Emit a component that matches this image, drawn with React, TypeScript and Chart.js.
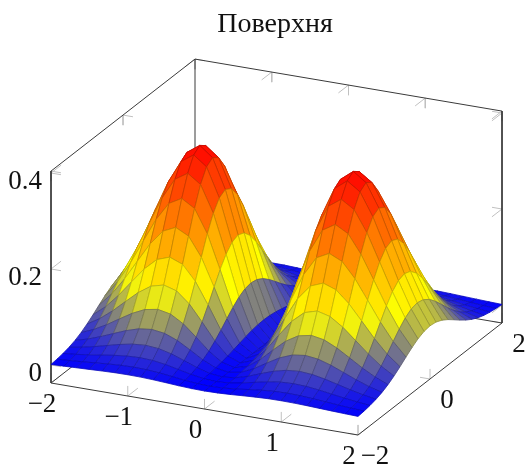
import React, { useEffect, useRef } from "react";
import { Chart, registerables } from "chart.js";

Chart.register(...registerables);

const titleText = "Поверхня";
const xTicks = [-2, -1, 0, 1, 2];
const yTicks = [-2, 0, 2];
const zTicks = [0, 0.2, 0.4];
const xTickLabels = ["−2", "−1", "0", "1", "2"];
const yTickLabels = ["−2", "0", "2"];
const zTickLabels = ["0", "0.2", "0.4"];

// grid coordinates of the surface
const gridX = [-2, -1.8333, -1.6667, -1.5, -1.3333, -1.1667, -1, -0.8333, -0.6667, -0.5, -0.3333, -0.1667, 0, 0.1667, 0.3333, 0.5, 0.6667, 0.8333, 1, 1.1667, 1.3333, 1.5, 1.6667, 1.8333, 2];
const gridY = [-2, -1.8333, -1.6667, -1.5, -1.3333, -1.1667, -1, -0.8333, -0.6667, -0.5, -0.3333, -0.1667, 0, 0.1667, 0.3333, 0.5, 0.6667, 0.8333, 1, 1.1667, 1.3333, 1.5, 1.6667, 1.8333, 2];

// heights for |x| = 0, 1/6 … 2 (rows) and |y| = 0, 1/6 … 2 (columns); the surface is mirror-symmetric in both
const zQuadrant = [
  [0, 0, 0, 0, 0, 0, 0, 0, 0, 0, 0, 0, 0],
  [0.027, 0.0263, 0.0242, 0.021, 0.0173, 0.0135, 0.0099, 0.0069, 0.0046, 0.0028, 0.0017, 0.0009, 0.0005],
  [0.0994, 0.0967, 0.089, 0.0774, 0.0638, 0.0496, 0.0366, 0.0255, 0.0168, 0.0105, 0.0062, 0.0034, 0.0018],
  [0.1947, 0.1894, 0.1742, 0.1516, 0.1248, 0.0972, 0.0716, 0.0499, 0.0329, 0.0205, 0.0121, 0.0068, 0.0036],
  [0.285, 0.2772, 0.255, 0.2219, 0.1827, 0.1423, 0.1048, 0.0731, 0.0482, 0.03, 0.0177, 0.0099, 0.0052],
  [0.3468, 0.3373, 0.3103, 0.2701, 0.2223, 0.1732, 0.1276, 0.0889, 0.0586, 0.0365, 0.0216, 0.012, 0.0064],
  [0.3679, 0.3578, 0.3292, 0.2865, 0.2359, 0.1837, 0.1353, 0.0943, 0.0622, 0.0388, 0.0229, 0.0128, 0.0067],
  [0.349, 0.3394, 0.3123, 0.2718, 0.2237, 0.1743, 0.1284, 0.0895, 0.059, 0.0368, 0.0217, 0.0121, 0.0064],
  [0.3005, 0.2922, 0.2689, 0.234, 0.1927, 0.15, 0.1105, 0.077, 0.0508, 0.0317, 0.0187, 0.0104, 0.0055],
  [0.2371, 0.2307, 0.2122, 0.1847, 0.1521, 0.1184, 0.0872, 0.0608, 0.0401, 0.025, 0.0147, 0.0082, 0.0043],
  [0.1727, 0.168, 0.1546, 0.1345, 0.1107, 0.0862, 0.0635, 0.0443, 0.0292, 0.0182, 0.0107, 0.006, 0.0032],
  [0.1166, 0.1134, 0.1044, 0.0908, 0.0748, 0.0582, 0.0429, 0.0299, 0.0197, 0.0123, 0.0073, 0.004, 0.0021],
  [0.0733, 0.0713, 0.0656, 0.0571, 0.047, 0.0366, 0.027, 0.0188, 0.0124, 0.0077, 0.0046, 0.0025, 0.0013],
];

const zAxisMin = -0.0375;
const zAxisMax = 0.404;
const xMin = -2, xMax = 2, yMin = -2, yMax = 2;

// colormap "hot"
const cmap = [[0, 0, 255], [255, 255, 0], [255, 128, 0], [255, 0, 0]];
const zColorMax = 0.3679;

const W = 525, H = 464, TOP = 45, LEFT = 25;

type P = { x: number; y: number };
// oblique projection of the 3D box onto the two hidden linear scales
function proj(x: number, y: number, z: number): P {
  return {
    x: 276.5 + 76.75 * x + 36 * y,
    y: H - (335 + 13 * x - 28 * y - 480 * z),
  };
}

function zAt(i: number, j: number): number {
  return zQuadrant[Math.abs(i - 12)][Math.abs(j - 12)];
}

function colorOf(z: number, darken = 1): string {
  const t = Math.max(0, Math.min(1, z / zColorMax)) * (cmap.length - 1);
  const k = Math.min(cmap.length - 2, Math.floor(t));
  const f = t - k;
  const c = cmap[k].map((v, n) => Math.round((v + (cmap[k + 1][n] - v) * f) * darken));
  return `rgb(${c[0]},${c[1]},${c[2]})`;
}

function buildDatasets() {
  const sets: any[] = [];
  // nearest cells first: the first dataset is painted last
  for (let j = 0; j < gridY.length - 1; j++) {
    for (let i = gridX.length - 2; i >= 0; i--) {
      const zs = [zAt(i, j), zAt(i + 1, j), zAt(i + 1, j + 1), zAt(i, j + 1)];
      const mean = (zs[0] + zs[1] + zs[2] + zs[3]) / 4;
      const a = proj(gridX[i], gridY[j], zs[0]);
      const b = proj(gridX[i + 1], gridY[j], zs[1]);
      const c = proj(gridX[i + 1], gridY[j + 1], zs[2]);
      const d = proj(gridX[i], gridY[j + 1], zs[3]);
      sets.push({
        data: [a, b, c, d, a],
        showLine: true,
        fill: "shape",
        backgroundColor: colorOf(mean),
        borderColor: colorOf(mean, 0.78),
        borderWidth: 0.8,
        borderJoinStyle: "round",
        pointRadius: 0,
        tension: 0,
      });
    }
  }
  // box and ticks lie behind the surface
  const seg = (p: P[], color: string, width: number) =>
    sets.push({ data: p, showLine: true, fill: false, borderColor: color, borderWidth: width, pointRadius: 0, tension: 0 });
  const box = "#3a3a3a";
  seg([proj(xMin, yMax, zAxisMax), proj(xMax, yMax, zAxisMax), proj(xMax, yMax, zAxisMin), proj(xMin, yMax, zAxisMin), proj(xMin, yMax, zAxisMax), proj(xMin, yMin, zAxisMax), proj(xMin, yMin, zAxisMin), proj(xMax, yMin, zAxisMin), proj(xMax, yMax, zAxisMin)], box, 1);
  seg([proj(xMin, yMin, zAxisMin), proj(xMin, yMax, zAxisMin)], box, 1);
  const tk = "#c0c0c0";
  const dz = 0.021, dy = 0.28, dx = 0.13;
  for (const x of xTicks) {
    seg([proj(x, yMin, zAxisMin), proj(x, yMin, zAxisMin + dz)], tk, 1);
    seg([proj(x, yMin, zAxisMin), proj(x, yMin + dy, zAxisMin)], tk, 1);
    seg([proj(x, yMax, zAxisMax), proj(x, yMax, zAxisMax - dz)], tk, 1);
    seg([proj(x, yMax, zAxisMax), proj(x, yMax - dy, zAxisMax)], tk, 1);
  }
  for (const y of yTicks) {
    seg([proj(xMax, y, zAxisMin), proj(xMax, y, zAxisMin + dz)], tk, 1);
    seg([proj(xMax, y, zAxisMin), proj(xMax - dx, y, zAxisMin)], tk, 1);
    seg([proj(xMin, y, zAxisMax), proj(xMin, y, zAxisMax - dz)], tk, 1);
    seg([proj(xMin, y, zAxisMax), proj(xMin + dx, y, zAxisMax)], tk, 1);
  }
  for (const z of zTicks) {
    seg([proj(xMin, yMin, z), proj(xMin + dx, yMin, z)], tk, 1);
    seg([proj(xMin, yMin, z), proj(xMin, yMin + dy, z)], tk, 1);
    seg([proj(xMax, yMax, z), proj(xMax - dx, yMax, z)], tk, 1);
    seg([proj(xMax, yMax, z), proj(xMax, yMax - dy, z)], tk, 1);
  }
  return sets;
}

const tickLabelPlugin = {
  id: "tickLabels3d",
  afterDraw(chart: any) {
    const { ctx, scales } = chart;
    const put = (p: P, s: string, dx: number, dy: number, align: CanvasTextAlign) => {
      ctx.textAlign = align;
      ctx.fillText(s, scales.x.getPixelForValue(p.x) + dx, scales.y.getPixelForValue(p.y) + dy);
    };
    ctx.save();
    ctx.fillStyle = "#111";
    ctx.font = '27px "Liberation Serif"';
    ctx.textBaseline = "alphabetic";
    xTicks.forEach((v, i) => put(proj(v, yMin, zAxisMin), xTickLabels[i], -9, 29, "center"));
    yTicks.forEach((v, i) => put(proj(xMax, v, zAxisMin), yTickLabels[i], 17, 29, "center"));
    zTicks.forEach((v, i) => put(proj(xMin, yMin, v), zTickLabels[i], -9, 16, "right"));
    ctx.restore();
  },
};

export default function App() {
  const ref = useRef<HTMLCanvasElement>(null);
  useEffect(() => {
    const chart = new Chart(ref.current!, {
      type: "scatter",
      data: { datasets: buildDatasets() },
      options: {
        animation: false,
        responsive: false,
        events: [],
        layout: { padding: { left: LEFT, right: 0, top: 0, bottom: 0 } },
        plugins: {
          legend: { display: false },
          tooltip: { enabled: false },
          title: {
            display: true,
            text: titleText,
            fullSize: false,
            color: "#111",
            font: { family: '"Liberation Serif"', size: 28, weight: "normal", lineHeight: 1.2 },
            padding: { top: 8.2, bottom: 3.2 },
          },
        },
        scales: {
          x: { type: "linear", display: false, min: LEFT, max: W },
          y: { type: "linear", display: false, min: 0, max: H - TOP },
        },
      },
      plugins: [tickLabelPlugin],
    } as any);
    return () => chart.destroy();
  }, []);
  return (
    <canvas
      ref={ref}
      width={W}
      height={H}
      style={{ position: "fixed", left: 0, top: 0, display: "block", width: W, height: H }}
    />
  );
}
